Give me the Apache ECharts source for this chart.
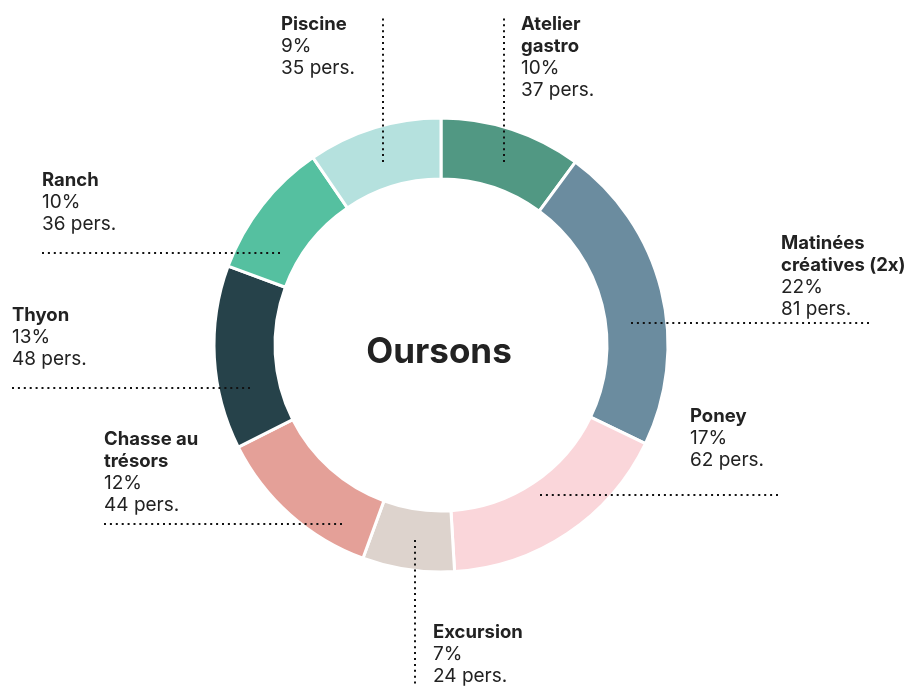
<!DOCTYPE html>
<html>
<head>
<meta charset="utf-8">
<script src="https://cdn.jsdelivr.net/npm/echarts@6/dist/echarts.min.js"></script>
<style>
  html, body { margin: 0; padding: 0; background: #fff; }
  #chart { width: 907px; height: 686px; }
</style>
</head>
<body>
<div id="chart"></div>
<script>
// données
var categories = ['Atelier\ngastro', 'Matinées\ncréatives (2x)', 'Poney', 'Excursion', 'Chasse au\ntrésors', 'Thyon', 'Ranch', 'Piscine'];
var persons = [37, 81, 62, 24, 44, 48, 36, 35];
var colors = ['#519883', '#6b8c9f', '#fad6da', '#ddd3cd', '#e4a098', '#26424a', '#55c0a0', '#b5e1de'];
var centerTitle = 'Oursons';

// position des étiquettes [x, y] et des traits pointillés [[x1,y1],[x2,y2]]
var labelPos = [[521, 13], [781, 232], [690, 405], [433, 621], [104, 428], [12, 304], [42, 169], [281, 13]];
var linePos = [
  [[504, 162], [504, 18]],
  [[631, 323], [870, 323]],
  [[540, 495], [778, 495]],
  [[415, 540], [415, 686]],
  [[342, 524], [104, 524]],
  [[250, 388], [12, 388]],
  [[280, 253], [42, 253]],
  [[383, 162], [383, 18]]
];

var myChart = echarts.init(document.getElementById('chart'));

function pieData(withColor) {
  return categories.map(function (c, i) {
    return { name: c, value: persons[i], itemStyle: { color: withColor ? colors[i] : 'rgba(0,0,0,0)' } };
  });
}

var option = {
  animation: false,
  textStyle: { fontFamily: 'Inter' },
  graphic: [{
    type: 'text',
    x: 439,
    y: 352,
    style: {
      text: centerTitle,
      font: 'bold 35px Inter',
      fill: '#222',
      align: 'center',
      verticalAlign: 'middle'
    }
  }],
  series: [{
    // anneau
    type: 'pie',
    center: [441, 345],
    radius: [166, 227],
    startAngle: 90,
    silent: true,
    itemStyle: { borderColor: '#fff', borderWidth: 3 },
    label: { show: false },
    labelLine: { show: false },
    data: pieData(true)
  }, {
    // étiquettes et traits au-dessus de l'anneau
    type: 'pie',
    z: 5,
    center: [441, 345],
    radius: [166, 227],
    startAngle: 90,
    silent: true,
    percentPrecision: 0,
    itemStyle: { borderWidth: 0 },
    label: {
      show: true,
      position: 'outside',
      color: '#222',
      fontFamily: 'Inter',
      fontSize: 19,
      lineHeight: 22,
      formatter: function (p) {
        return '{b|' + p.name + '}\n' + p.percent + '%\n' + p.value + ' pers.';
      },
      rich: {
        b: { fontWeight: 'bold', fontSize: 18.5, lineHeight: 22, color: '#222', fontFamily: 'Inter' }
      }
    },
    labelLine: {
      show: true,
      smooth: false,
      lineStyle: { color: '#111', width: 2, type: [2, 3.9] }
    },
    labelLayout: function (params) {
      var i = params.dataIndex;
      var l = linePos[i];
      return {
        x: labelPos[i][0],
        y: labelPos[i][1],
        align: 'left',
        verticalAlign: 'top',
        labelLinePoints: [l[0], l[1], l[1]]
      };
    },
    data: pieData(false)
  }]
};

myChart.setOption(option);
</script>
</body>
</html>
